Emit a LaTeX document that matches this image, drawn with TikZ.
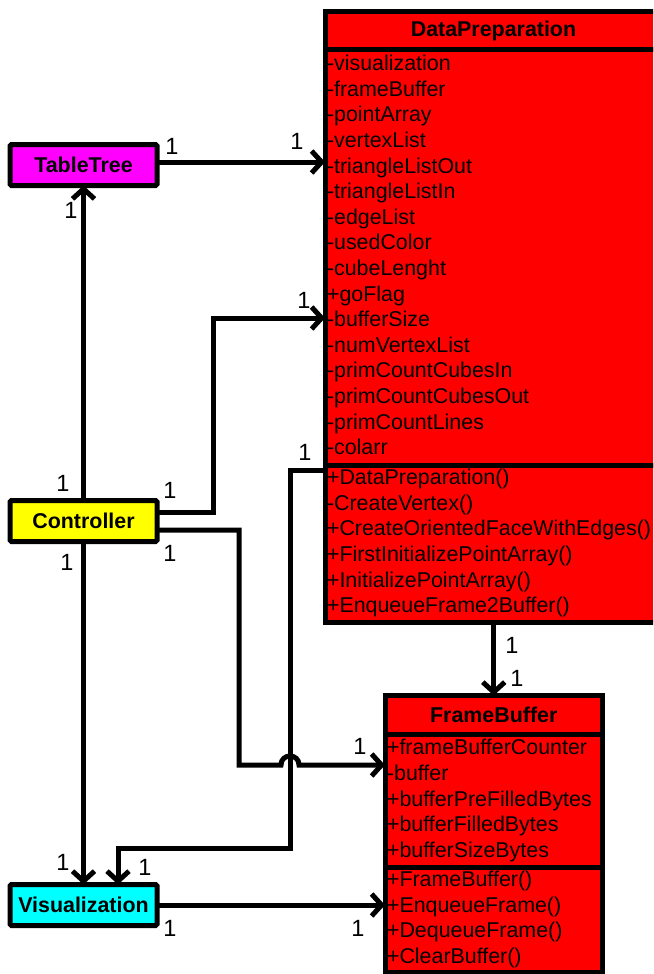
\documentclass[tikz,border=0pt]{standalone}
\usepackage{fontspec}
\setmainfont{Liberation Sans}
\usetikzlibrary{arrows.meta,positioning}
\definecolor{ttfill}{RGB}{255,0,255}
\definecolor{ctlfill}{RGB}{255,255,0}
\definecolor{visfill}{RGB}{0,255,255}
\definecolor{clsfill}{RGB}{255,0,0}

\begin{document}
\begin{tikzpicture}[x=1pt, y=-1pt,
		box/.style={draw=black, line width=5pt, rounded corners=1.5pt, outer sep=0pt, inner sep=0pt, font=\fontsize{21.4}{25.6}\selectfont\bfseries, minimum width=147pt, minimum height=41pt},
		head/.style={box, fill=clsfill, rounded corners=0pt},
		part/.style={draw=black, fill=clsfill, line width=5pt, outer sep=0pt, inner xsep=2pt, inner ysep=0pt, align=left, font=\fontsize{21.4}{25.6}\selectfont},
		assoc/.style={line width=5pt, -{Straight Barb[length=10pt,width=22pt]}},
		mult/.style={font=\fontsize{23.5}{25.6}\selectfont, inner sep=0pt}]
	\useasboundingbox (0,0) rectangle (653,974);
	\clip (0,0) rectangle (653,974);

	\node[box, fill=ttfill] (tt) at (83.5,165) {TableTree};
	\node[box, fill=ctlfill] (ctl) at (83.5,521) {Controller};
	\node[box, fill=visfill] (vis) at (83.5,905) {Visualization};

	\node[head, anchor=north west, minimum width=337pt, minimum height=38.5pt] (dph) at (325,11.5) {DataPreparation};
	\node[part, text width=333pt, minimum height=415pt, below right=0pt and 0pt of dph.south west] (dpa) {\strut-visualization\\-frameBuffer\\-pointArray\\-vertexList\\-triangleListOut\\-triangleListIn\\-edgeList\\-usedColor\\-cubeLenght\\+goFlag\\-bufferSize\\-numVertexList\\-primCountCubesIn\\-primCountCubesOut\\-primCountLines\\-colarr\strut};
	\node[part, text width=333pt, minimum height=157pt, below right=0pt and 0pt of dpa.south west] (dpm) {\strut+DataPreparation()\\-CreateVertex()\\+CreateOrientedFaceWithEdges()\\+FirstInitializePointArray()\\+InitializePointArray()\\+EnqueueFrame2Buffer()\strut};

	\node[head, anchor=north west, minimum width=217.5pt, minimum height=39pt] (fbh) at (385,695.5) {FrameBuffer};
	\node[part, text width=213.5pt, minimum height=133pt, below right=0pt and 0pt of fbh.south west] (fba) {\strut+frameBufferCounter\\-buffer\\+bufferPreFilledBytes\\+bufferFilledBytes\\+bufferSizeBytes\strut};
	\node[part, text width=213.5pt, minimum height=104.5pt, below right=0pt and 0pt of fba.south west] (fbm) {\strut+FrameBuffer()\\+EnqueueFrame()\\+DequeueFrame()\\+ClearBuffer()\strut};

	\node[mult] (m1) at (172,146) {1};
	\node[mult] (m2) at (297,141) {1};
	\node[mult] (m3) at (63,483) {1};
	\node[mult] (m4) at (71,210) {1};
	\node[mult] (m5) at (170,490) {1};
	\node[mult] (m6) at (304,300) {1};
	\node[mult] (m7) at (170,553) {1};
	\node[mult] (m8) at (360,746) {1};
	\node[mult] (m9) at (305,452) {1};
	\node[mult] (m10) at (145,867) {1};
	\node[mult] (m11) at (67,562) {1};
	\node[mult] (m12) at (63,862) {1};
	\node[mult] (m13) at (512,645) {1};
	\node[mult] (m14) at (517,678) {1};
	\node[mult] (m15) at (170,928) {1};
	\node[mult] (m16) at (358,928) {1};

	\coordinate (c3) at (213,318);
	\coordinate (c4) at (239,765);
	\coordinate (c5) at (290,848);

	\draw[assoc] ([yshift=3pt]tt.east) -- ([yshift=3pt]tt.east -| dpa.west);
	\draw[assoc] (ctl.north) -- (tt.south);
	\draw[assoc] ([yshift=9pt]ctl.east) -| (c3) -- (c3 -| dpa.west);
	\draw[assoc] ([yshift=-5pt]dpm.north west) -| (c5) -| ([xshift=34.5pt]vis.north);
	\draw[assoc] ([yshift=-9pt]ctl.east) -| (c4) -- ++(42,0) .. controls +(0,-12) and +(0,-12) .. ++(18,0) -- (c4 -| fba.west);
	\draw[assoc] (ctl.south) -- (vis.north);
	\draw[assoc] (dpm.south -| fbh.north) -- (fbh.north);
	\draw[assoc] (vis.east) -- (vis.east -| fbm.west);
\end{tikzpicture}
\end{document}
